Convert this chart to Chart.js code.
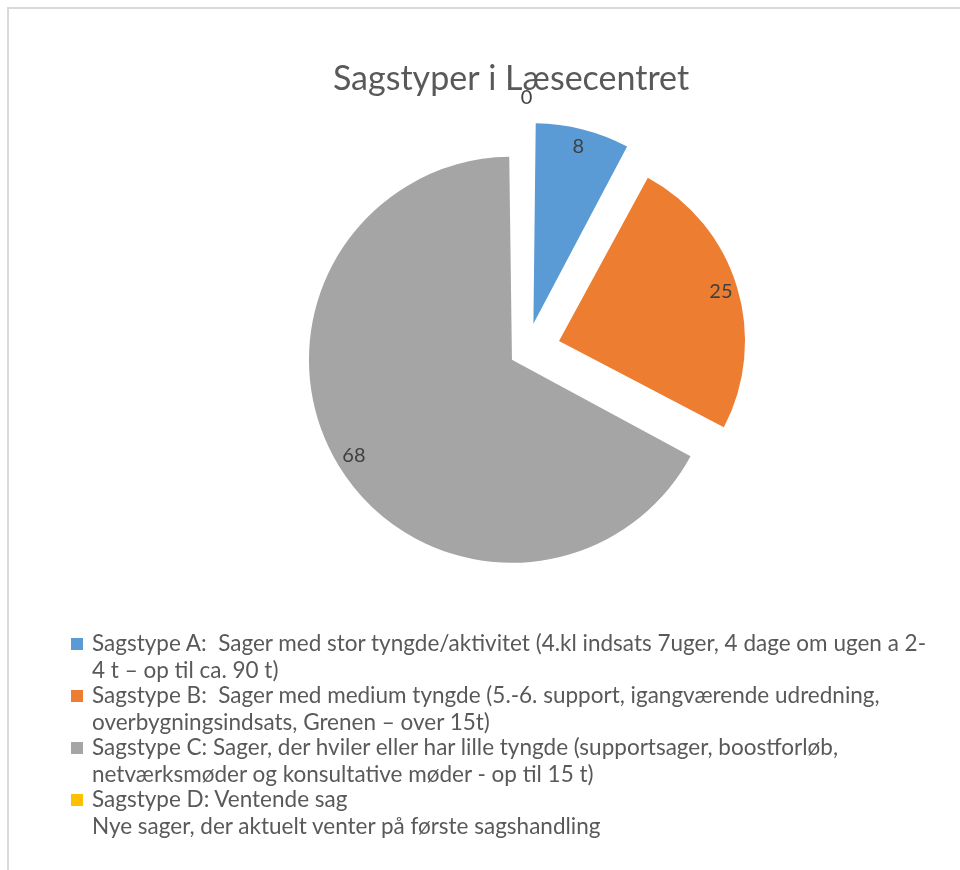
<!DOCTYPE html>
<html>
<head>
<meta charset="utf-8">
<title>Sagstyper i Læsecentret</title>
<script src="https://cdn.jsdelivr.net/npm/chart.js@4/dist/chart.umd.min.js"></script>
<style>
  html, body { margin: 0; padding: 0; background: #fff; }
  body { width: 960px; height: 870px; position: relative; overflow: hidden; font-family: Lato, "Open Sans", sans-serif; }
  #frame { position: absolute; left: 7px; top: 7px; width: 1000px; height: 900px; border-left: 2px solid #d9d9d9; border-top: 2px solid #d9d9d9; }
  #chartBox { position: absolute; left: 0; top: 0; width: 960px; height: 640px; }
  #legend { position: absolute; left: 71px; top: 629px; color: #595959; font-size: 22.5px; }
  .item { position: relative; padding-left: 21px; line-height: 27px; margin-bottom: -2px; white-space: pre; }
  .item .box { position: absolute; left: 0; top: 9px; width: 12px; height: 12px; }
</style>
</head>
<body>
<div id="frame"></div>
<div id="chartBox"><canvas id="pieChart"></canvas></div>
<div id="legend"></div>
<script>
const chartTitle = 'Sagstyper i Læsecentret';

// legend text, one array per category (the lines as wrapped in the original)
const categories = [
  ['Sagstype A:  Sager med stor tyngde/aktivitet (4.kl indsats 7uger, 4 dage om ugen a 2-', '4 t – op til ca. 90 t)'],
  ['Sagstype B:  Sager med medium tyngde (5.-6. support, igangværende udredning,', 'overbygningsindsats, Grenen – over 15t)'],
  ['Sagstype C: Sager, der hviler eller har lille tyngde (supportsager, boostforløb,', 'netværksmøder og konsultative møder - op til 15 t)'],
  ['Sagstype D: Ventende sag', 'Nye sager, der aktuelt venter på første sagshandling']
];
const caseCounts = [8, 25, 68, 0];
const sliceColors = ['#5B9BD5', '#ED7D31', '#A5A5A5', '#FFC000'];
const explode = [112, 136, 68, 0]; // slice offsets (chart.js divides by 4)

// Draw the numbers on (or next to) each slice
const valueLabels = {
  id: 'valueLabels',
  afterDatasetsDraw(chart) {
    const ctx = chart.ctx;
    const meta = chart.getDatasetMeta(0);
    const values = chart.data.datasets[0].data;
    ctx.save();
    ctx.font = '20px Lato';
    ctx.fillStyle = '#404040';
    ctx.textAlign = 'center';
    ctx.textBaseline = 'middle';
    meta.data.forEach((arc, i) => {
      const p = arc.getProps(['x', 'y', 'startAngle', 'endAngle', 'outerRadius', 'circumference'], true);
      const mid = (p.startAngle + p.endAngle) / 2;
      const shift = (arc.options.offset || 0) / 4;
      const grow = shift * (1 - Math.sin(Math.min(Math.PI, p.circumference)));
      let dist = shift + 0.91 * (p.outerRadius + grow);
      if (values[i] === 0) dist = p.outerRadius * 1.36; // empty slice: label sits outside
      ctx.fillText(String(values[i]), p.x + Math.cos(mid) * dist, p.y + Math.sin(mid) * dist);
    });
    ctx.restore();
  }
};

// Title is drawn by hand so it can sit a bit left of the pie centre (like the original)
const titleText = {
  id: 'titleText',
  afterDraw(chart) {
    const ctx = chart.ctx;
    ctx.save();
    ctx.font = '34px Lato';
    ctx.fillStyle = '#595959';
    ctx.textAlign = 'center';
    ctx.textBaseline = 'alphabetic';
    ctx.fillText(chartTitle, 511, 90);
    ctx.restore();
  }
};

const ctx = document.getElementById('pieChart').getContext('2d');
const chart = new Chart(ctx, {
  type: 'pie',
  data: {
    labels: categories,
    datasets: [{
      data: caseCounts,
      backgroundColor: sliceColors,
      borderWidth: 0,
      offset: explode,
      radius: 186
    }]
  },
  options: {
    responsive: true,
    maintainAspectRatio: false,
    animation: false,
    layout: { padding: { left: 113, right: 20, top: 102, bottom: 40 } },
    plugins: {
      legend: { display: false },
      tooltip: { enabled: false },
      title: { display: false }
    }
  },
  plugins: [valueLabels, titleText]
});

// HTML legend built from the same arrays (it wraps like the original)
const legendEl = document.getElementById('legend');
categories.forEach((lines, i) => {
  const item = document.createElement('div');
  item.className = 'item';
  const box = document.createElement('span');
  box.className = 'box';
  box.style.background = sliceColors[i];
  item.appendChild(box);
  item.appendChild(document.createTextNode(lines.join('\n')));
  legendEl.appendChild(item);
});
</script>
</body>
</html>
